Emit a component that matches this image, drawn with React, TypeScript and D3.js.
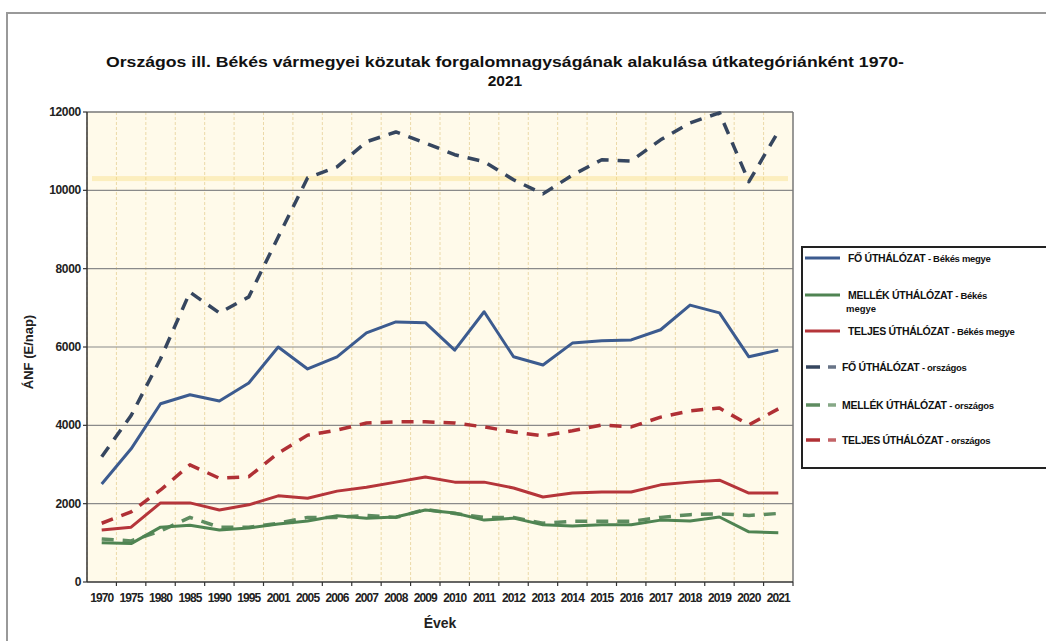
import React from 'react';
import * as d3 from 'd3';

const years = ['1970', '1975', '1980', '1985', '1990', '1995', '2001', '2005', '2006', '2007', '2008', '2009', '2010', '2011', '2012', '2013', '2014', '2015', '2016', '2017', '2018', '2019', '2020', '2021'];

const foBekes = [2500, 3400, 4550, 4780, 4620, 5080, 6000, 5440, 5750, 6360, 6640, 6620, 5920, 6900, 5750, 5540, 6100, 6160, 6180, 6440, 7070, 6870, 5750, 5920];
const mellekBekes = [1000, 980, 1400, 1450, 1330, 1380, 1480, 1560, 1690, 1630, 1660, 1840, 1760, 1580, 1630, 1460, 1430, 1460, 1460, 1580, 1560, 1660, 1280, 1260];
const teljesBekes = [1330, 1400, 2020, 2020, 1840, 1970, 2200, 2140, 2320, 2420, 2550, 2680, 2550, 2550, 2400, 2170, 2270, 2300, 2300, 2480, 2550, 2600, 2270, 2270];
const foOrszagos = [3200, 4250, 5700, 7400, 6870, 7280, 8810, 10320, 10600, 11240, 11490, 11210, 10910, 10730, 10270, 9910, 10390, 10780, 10750, 11290, 11720, 11980, 10220, 11500];
const mellekOrszagos = [1100, 1050, 1300, 1650, 1400, 1400, 1500, 1650, 1650, 1700, 1650, 1850, 1750, 1650, 1650, 1500, 1550, 1550, 1550, 1650, 1720, 1740, 1700, 1750];
const teljesOrszagos = [1500, 1790, 2350, 2990, 2650, 2690, 3290, 3750, 3880, 4060, 4090, 4090, 4060, 3960, 3830, 3730, 3860, 4010, 3960, 4210, 4370, 4440, 4010, 4420];

const yTicks = [0, 2000, 4000, 6000, 8000, 10000, 12000];

const series = [
  { name: 'FŐ ÚTHÁLÓZAT', sub: '- Békés megye', values: foBekes, color: '#3c5b8f', dashed: false },
  { name: 'MELLÉK ÚTHÁLÓZAT', sub: '- Békés', sub2: 'megye', values: mellekBekes, color: '#4f8452', dashed: false },
  { name: 'TELJES ÚTHÁLÓZAT', sub: '- Békés megye', values: teljesBekes, color: '#b5353a', dashed: false },
  { name: 'FŐ ÚTHÁLÓZAT', sub: '- országos', values: foOrszagos, color: '#36465f', dashed: true },
  { name: 'MELLÉK ÚTHÁLÓZAT', sub: '- országos', values: mellekOrszagos, color: '#5e8c60', dashed: true },
  { name: 'TELJES ÚTHÁLÓZAT', sub: '- országos', values: teljesOrszagos, color: '#b03035', dashed: true },
];

const W = 1046;
const H = 641;
const plot = { left: 87, right: 793, top: 112, bottom: 582 };
const font = 'Liberation Sans, Arial, sans-serif';

export default function App() {
  const x = d3.scaleBand().domain(years).range([plot.left, plot.right]);
  const y = d3.scaleLinear().domain([0, 12000]).range([plot.bottom, plot.top]);
  const cx = (i: number) => (x(years[i]) as number) + x.bandwidth() / 2;
  const line = d3.line<number>().x((_, i) => cx(i)).y((d) => y(d));

  // országos lines go under the Békés ones
  const drawOrder = [3, 5, 4, 1, 2, 0];
  const legendRows = [258, 295, 331, 367, 405, 440];

  return (
    <svg width={W} height={H} style={{ position: 'absolute', left: 0, top: 0, background: '#fff' }}>
      {/* outer frame */}
      <rect x={7} y={13} width={W} height={H} fill="none" stroke="#999" strokeWidth={2} />

      <text x={505} y={67} textAnchor="middle" fontFamily={font} fontWeight="bold" fontSize={15.5} textLength={798} lengthAdjust="spacingAndGlyphs" fill="#111">
        Országos ill. Békés vármegyei közutak forgalomnagyságának alakulása útkategóriánként 1970-
      </text>
      <text x={505} y={86} textAnchor="middle" fontFamily={font} fontWeight="bold" fontSize={15.5} fill="#111">2021</text>

      {/* plot area */}
      <rect x={plot.left} y={plot.top} width={plot.right - plot.left} height={plot.bottom - plot.top} fill="#fffaea" />
      {years.map((yr) => (
        <line key={'vg' + yr} x1={x(yr)} x2={x(yr)} y1={plot.top} y2={plot.bottom} stroke="#ecd9a8" strokeWidth={1} strokeDasharray="3,2" />
      ))}
      <rect x={plot.left + 5} y={y(10300) - 2.5} width={plot.right - plot.left - 10} height={5} fill="#f6d86e" opacity={0.35} />
      {yTicks.filter((t) => t > 0 && t < 12000).map((t) => (
        <line key={'hg' + t} x1={plot.left} x2={plot.right} y1={y(t)} y2={y(t)} stroke="#8a8a8a" strokeWidth={1.2} />
      ))}
      <line x1={plot.left} x2={plot.right} y1={plot.top} y2={plot.top} stroke="#777" strokeWidth={1.5} />
      <line x1={plot.right} x2={plot.right} y1={plot.top} y2={plot.bottom} stroke="#777" strokeWidth={1.5} />

      {/* axes */}
      <line x1={plot.left} x2={plot.left} y1={plot.top} y2={plot.bottom} stroke="#333" strokeWidth={1.5} />
      <line x1={plot.left} x2={plot.right} y1={plot.bottom} y2={plot.bottom} stroke="#333" strokeWidth={1.5} />
      {yTicks.map((t) => (
        <g key={'yt' + t}>
          <line x1={plot.left - 4} x2={plot.left} y1={y(t)} y2={y(t)} stroke="#333" strokeWidth={1.2} />
          <text x={plot.left - 6} y={y(t) + 4} textAnchor="end" fontFamily={font} fontWeight="bold" fontSize={12} letterSpacing={-0.3} fill="#222">{t}</text>
        </g>
      ))}
      {years.map((yr, i) => (
        <g key={'xt' + yr}>
          <line x1={(x(yr) as number) + x.bandwidth()} x2={(x(yr) as number) + x.bandwidth()} y1={plot.bottom} y2={plot.bottom + 4} stroke="#333" strokeWidth={1.2} />
          <text x={cx(i)} y={602} textAnchor="middle" fontFamily={font} fontWeight="bold" fontSize={12} letterSpacing={-0.9} fill="#222">{yr}</text>
        </g>
      ))}
      <text x={440} y={628} textAnchor="middle" fontFamily={font} fontWeight="bold" fontSize={14} fill="#222">Évek</text>
      <text transform="translate(33,352) rotate(-90)" textAnchor="middle" fontFamily={font} fontWeight="bold" fontSize={13} fill="#222">ÁNF (E/nap)</text>

      {/* lines */}
      {drawOrder.map((k) => {
        const s = series[k];
        return (
          <path key={'ln' + k} d={line(s.values) as string} fill="none" stroke={s.color}
            strokeWidth={s.dashed ? 3.5 : 3} strokeDasharray={s.dashed ? '12,9' : undefined} strokeLinejoin="round" />
        );
      })}

      {/* legend */}
      <rect x={802} y={247} width={260} height={221} fill="#fff" stroke="#222" strokeWidth={2} />
      {series.map((s, i) => {
        const ry = legendRows[i];
        return (
          <g key={'lg' + i}>
            {s.dashed ? (
              <>
                <line x1={806} x2={820} y1={ry} y2={ry} stroke={s.color} strokeWidth={3.5} />
                <line x1={828} x2={836} y1={ry} y2={ry} stroke={s.color} strokeWidth={3.5} opacity={0.75} />
              </>
            ) : (
              <line x1={805} x2={840} y1={ry} y2={ry} stroke={s.color} strokeWidth={3} />
            )}
            <text x={s.dashed ? 842 : 848} y={ry + 4} fontFamily={font} fontWeight="bold" fontSize={10.5} letterSpacing={-0.3} fill="#111">
              {s.name}{' '}
              <tspan fontSize={9.5}>{s.sub}</tspan>
            </text>
            {s.sub2 && (
              <text x={846} y={ry + 17} fontFamily={font} fontWeight="bold" fontSize={9.5} fill="#111">{s.sub2}</text>
            )}
          </g>
        );
      })}
    </svg>
  );
}
